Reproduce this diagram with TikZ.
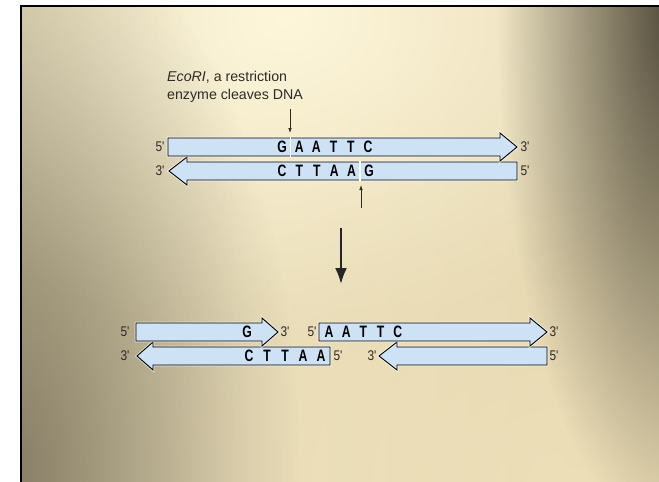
\documentclass[tikz,border=0pt]{standalone}
\usepackage{fontspec}
\setmainfont{Liberation Sans}
\newfontfamily\basefont[FakeStretch=0.74]{Liberation Sans}
\newfontfamily\endfont[FakeStretch=0.85]{Liberation Sans}
\usetikzlibrary{arrows.meta,fadings}

\definecolor{dnablue}{RGB}{206,226,245}
\definecolor{labelgray}{RGB}{45,43,40}
\definecolor{bgA}{RGB}{158,148,123}
\definecolor{bgB}{RGB}{196,185,150}
\definecolor{bgC}{RGB}{234,222,186}
\definecolor{bgD}{RGB}{228,214,176}
\definecolor{bgE}{RGB}{192,180,144}
\definecolor{bgF}{RGB}{120,112,92}
\definecolor{hilite}{RGB}{255,248,220}
\definecolor{shadow}{RGB}{70,64,50}
\definecolor{warm}{RGB}{242,228,188}

\pgfdeclarehorizontalshading{slide}{100bp}{color(0bp)=(bgA); color(20bp)=(bgB);
    color(42bp)=(bgC); color(70bp)=(bgD); color(88bp)=(bgE); color(100bp)=(bgF)}
\tikzfading[name=glow, inner color=transparent!0, outer color=transparent!100]

\begin{document}
\begin{tikzpicture}[x=1pt, y=-1pt, inner sep=0pt,
                    strand/.style={fill=dnablue, draw=black, line width=0.9pt,
                                   preaction={draw=white, line width=2.8pt, opacity=0.55}},
                    base/.style={font=\basefont\bfseries\fontsize{16.5}{16.5}\selectfont, text=black},
                    prime/.style={font=\endfont\fontsize{14}{14}\selectfont, text=labelgray},
                    cut/.style={->, draw=labelgray, line width=0.8pt},
                    gap/.style={draw=white, line width=1.6pt},
                    >={Latex[length=5pt, width=3.6pt]}]
    \useasboundingbox (0,0) rectangle (659,482);
    \fill [white] (0,0) rectangle (659,482);

    \begin{scope}
        \clip (20,5) rectangle (659,482);
        \shade [shading=slide] (20,5) rectangle (659,482);
        \fill [hilite, path fading=glow, fill opacity=0.95] (285,20) ellipse (440 and 320);
        \fill [warm, path fading=glow, fill opacity=0.6]    (570,482) ellipse (440 and 320);
        \fill [shadow, path fading=glow, fill opacity=0.5]  (20,470) ellipse (280 and 560);
        \fill [shadow, path fading=glow, fill opacity=0.9]  (668,10) ellipse (170 and 520);
    \end{scope}
    \draw [black, line width=1.5pt] (20.75,482) -- (20.75,5.75) -- (659,5.75);

    \node at (167,86.7) (enzyme) [anchor=west, align=left, text=labelgray,
                                  font=\fontsize{14.2}{17.5}\selectfont]
        {\textit{EcoRI}, a restriction\\enzyme cleaves DNA};

    \draw [strand] (517,162) -- (187,162) -- (187,157) -- (169,171) -- (187,185) -- (187,180) -- (517,180) -- cycle;
    \draw [strand] (168,138) -- (500,138) -- (500,133) -- (517,147) -- (500,161) -- (500,156) -- (168,156) -- cycle;
    \draw [gap] (290.5,137.4) -- (290.5,156.6);
    \draw [gap] (360,161.4) -- (360,180.6);

    \foreach \b [count=\i] in {G,A,A,T,T,C}
        \node at (264.8+17.2*\i,147) (top\i) [base] {\b};
    \foreach \b [count=\i] in {C,T,T,A,A,G}
        \node at (264.6+17.4*\i,171) (bot\i) [base] {\b};

    \node at (160,147) (top5) [prime] {5'};
    \node at (525,147) (top3) [prime] {3'};
    \node at (160,171) (bot3) [prime] {3'};
    \node at (525,171) (bot5) [prime] {5'};

    \coordinate (cutTopTail) at (290,109);
    \coordinate (cutTop)     at (290,133);
    \coordinate (cutBotTail) at (361,208);
    \coordinate (cutBot)     at (361,185);
    \draw [cut] (cutTopTail) -- (cutTop);
    \draw [cut] (cutBotTail) -- (cutBot);

    \coordinate (stepTop) at (341,228);
    \coordinate (stepBot) at (341,284);
    \draw [line width=2.2pt, draw=black!85, -{Latex[length=16pt, width=12pt]}] (stepTop) -- (stepBot);

    \draw [strand] (330,347) -- (153,347) -- (153,342) -- (137,356) -- (153,370) -- (153,365) -- (330,365) -- cycle;
    \draw [strand] (136,323) -- (262,323) -- (262,318) -- (278,332) -- (262,346) -- (262,341) -- (136,341) -- cycle;
    \draw [strand] (547,347) -- (397,347) -- (397,342) -- (379,356) -- (397,370) -- (397,365) -- (547,365) -- cycle;
    \draw [strand] (319,323) -- (530,323) -- (530,318) -- (547,332) -- (530,346) -- (530,341) -- (319,341) -- cycle;

    \node at (247,332) (leftG) [base] {G};
    \foreach \b [count=\i] in {C,T,T,A,A}
        \node at (231+18*\i,356) (left\i) [base] {\b};
    \foreach \b [count=\i] in {A,A,T,T,C}
        \node at (311.8+17.2*\i,332) (right\i) [base] {\b};

    \node at (125,332) (left5)   [prime] {5'};
    \node at (285,332) (left3)   [prime] {3'};
    \node at (125,356) (leftB3)  [prime] {3'};
    \node at (338,356) (leftB5)  [prime] {5'};
    \node at (312,332) (right5)  [prime] {5'};
    \node at (554,332) (right3)  [prime] {3'};
    \node at (372,356) (rightB3) [prime] {3'};
    \node at (554,356) (rightB5) [prime] {5'};
\end{tikzpicture}
\end{document}
